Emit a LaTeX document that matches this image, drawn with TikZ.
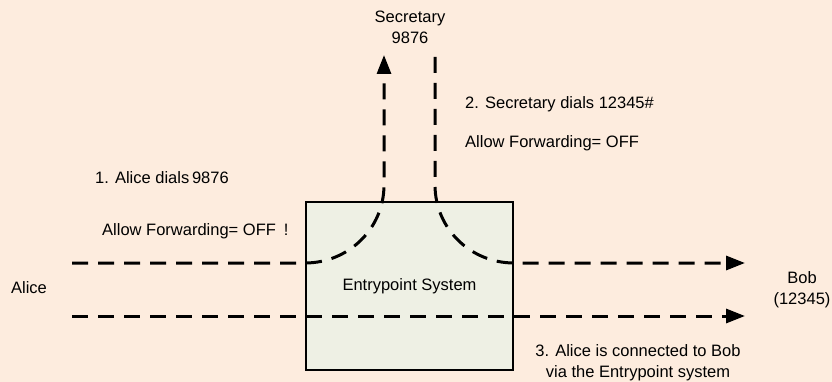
\documentclass[tikz,border=0pt]{standalone}
\usepackage{fontspec}
\setmainfont{Liberation Sans}
\usetikzlibrary{arrows.meta,positioning}
\definecolor{bgPeach}{RGB}{253,236,222}
\definecolor{boxcolor}{RGB}{238,240,228}

\begin{document}
\begin{tikzpicture}[x=1pt, y=-1pt,
    every node/.style={font=\fontsize{16.5}{21}\selectfont, inner sep=0pt},
    flow/.style={line width=3pt, dash pattern=on 16pt off 10pt},
    tip/.style={-{Triangle[length=19pt,width=14pt]}},
    sysbox/.style={draw, line width=2pt, fill=boxcolor, minimum width=207pt, minimum height=168pt}]
    % page and background
    \useasboundingbox (0,0) rectangle (832,382);
    \fill[bgPeach] (0,0) rectangle (832,382);
    % the system in the middle
    \node[sysbox] (sys) at (409.5,286) {Entrypoint System};
    % the three parties
    \node (alice) at (29,288) {Alice};
    \node[align=center] (bob) at (802,290) {Bob\\(12345)};
    \node[align=center] (sec) at (410,27.5) {Secretary\\9876};
    % the steps
    \node[anchor=base west] (step1) at (95,183) {1. Alice dials\,9876};
    \node[anchor=base west] (step1b) at (102,235) {Allow Forwarding= OFF\hspace{8pt}!};
    \node[anchor=base west] (step2) at (465,109) {2. Secretary dials 12345\#};
    \node[anchor=base west] (step2b) at (465,148) {Allow Forwarding= OFF};
    \node[align=center] (step3) at (638,362.5) {3. Alice is connected to Bob\\via the Entrypoint system};
    % free ends and bends of the call legs
    \coordinate (aliceUp) at (72,263);
    \coordinate (aliceLow) at (72,316);
    \coordinate (bobUp) at (745,263);
    \coordinate (bobLow) at (745,316);
    \coordinate (secIn) at (384,55);
    \coordinate (secOut) at (435,57);
    \coordinate (bendL) at (384,185);
    \coordinate (bendR) at (435,185);
    % call legs
    \draw[flow, tip] (aliceUp) -- (aliceUp -| sys.west) to[out=0, in=-90] (bendL) -- (secIn);
    \draw[flow, tip] (secOut) -- (bendR) to[out=-90, in=180] (bobUp -| sys.east) -- (bobUp);
    \draw[flow, tip] (aliceLow) -- (bobLow);
  \end{tikzpicture}
\end{document}
